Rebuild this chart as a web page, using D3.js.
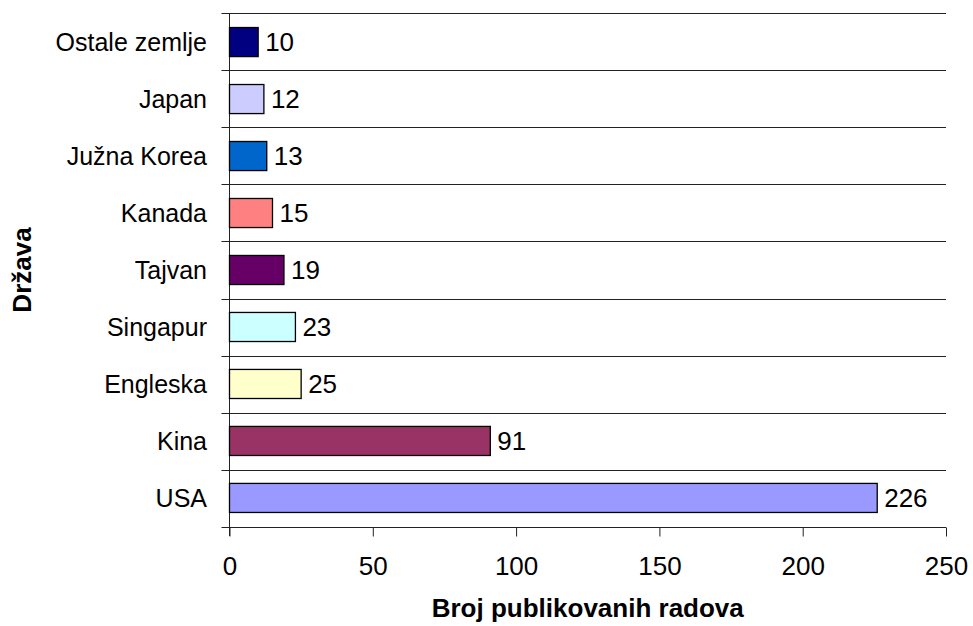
<!DOCTYPE html>
<html>
<head>
<meta charset="utf-8">
<script src="https://cdn.jsdelivr.net/npm/d3@7"></script>
<style>
  html, body { margin: 0; padding: 0; background: #fff; }
  svg { display: block; font-family: "Liberation Sans", Arial, sans-serif; }
</style>
</head>
<body>
<svg id="chart" width="973" height="626"></svg>
<script>
// Broj publikovanih radova po državama
const countries = ["Ostale zemlje", "Japan", "Južna Korea", "Kanada", "Tajvan", "Singapur", "Engleska", "Kina", "USA"];
const papers = [10, 12, 13, 15, 19, 23, 25, 91, 226];
const barColors = ["#000080", "#CCCCFF", "#0066CC", "#FF8080", "#660066", "#CCFFFF", "#FFFFCC", "#993366", "#9999FF"];
const xTicks = [0, 50, 100, 150, 200, 250];
const xTitle = "Broj publikovanih radova";
const yTitle = "Država";

const svg = d3.select("#chart");
const plotLeft = 229.5, plotRight = 946, plotTop = 13, plotBottom = 527;
const labelSize = 25, numberSize = 26, titleSize = 26;

const x = d3.scaleLinear().domain([0, 250]).range([plotLeft, plotRight]);
const y = d3.scaleBand().domain(countries).range([plotTop, plotBottom]).paddingInner(0.49).paddingOuter(0.255);

const lineColor = "#222";

// horizontal gridlines at category boundaries, extending as ticks left of the axis
const boundaries = d3.range(countries.length + 1).map(i => plotTop + i * (plotBottom - plotTop) / countries.length);
svg.append("g").selectAll("line").data(boundaries).join("line")
  .attr("x1", plotLeft - 8).attr("x2", plotRight)
  .attr("y1", d => Math.round(d) + 0.5).attr("y2", d => Math.round(d) + 0.5)
  .attr("stroke", lineColor).attr("stroke-width", 1);

// vertical value axis line
svg.append("line")
  .attr("x1", Math.round(plotLeft) - 0.5).attr("x2", Math.round(plotLeft) - 0.5)
  .attr("y1", plotTop).attr("y2", plotBottom + 9)
  .attr("stroke", lineColor);

// bottom axis ticks and labels
const xg = svg.append("g").attr("transform", `translate(0,${Math.round(plotBottom) + 0.5})`);
const xAxis = d3.axisBottom(x).tickValues(xTicks).tickSize(9).tickPadding(20).tickSizeOuter(0);
xg.call(xAxis);
xg.select(".domain").remove();
xg.selectAll(".tick line").attr("stroke", lineColor);
xg.selectAll(".tick text").attr("font-size", numberSize).attr("fill", "#000")
  .attr("font-family", "Liberation Sans, Arial, sans-serif");

// category labels
svg.append("g").selectAll("text").data(countries).join("text")
  .attr("x", 207)
  .attr("y", d => y(d) + y.bandwidth() / 2)
  .attr("dy", "0.36em")
  .attr("text-anchor", "end")
  .attr("font-size", labelSize)
  .text(d => d);

// bars
svg.append("g").selectAll("rect").data(countries).join("rect")
  .attr("x", x(0))
  .attr("y", d => y(d))
  .attr("width", (d, i) => x(papers[i]) - x(0))
  .attr("height", y.bandwidth())
  .attr("fill", (d, i) => barColors[i])
  .attr("stroke", "#000")
  .attr("stroke-width", 1.3);

// value labels
svg.append("g").selectAll("text").data(countries).join("text")
  .attr("x", (d, i) => x(papers[i]) + 7)
  .attr("y", d => y(d) + y.bandwidth() / 2)
  .attr("dy", "0.36em")
  .attr("font-size", numberSize)
  .text((d, i) => papers[i]);

// axis titles
svg.append("text")
  .attr("x", (plotLeft + plotRight) / 2)
  .attr("y", 617)
  .attr("text-anchor", "middle")
  .attr("font-size", titleSize)
  .attr("font-weight", "bold")
  .text(xTitle);

svg.append("text")
  .attr("transform", `translate(31,${(plotTop + plotBottom) / 2}) rotate(-90)`)
  .attr("text-anchor", "middle")
  .attr("font-size", titleSize)
  .attr("font-weight", "bold")
  .text(yTitle);
</script>
</body>
</html>
